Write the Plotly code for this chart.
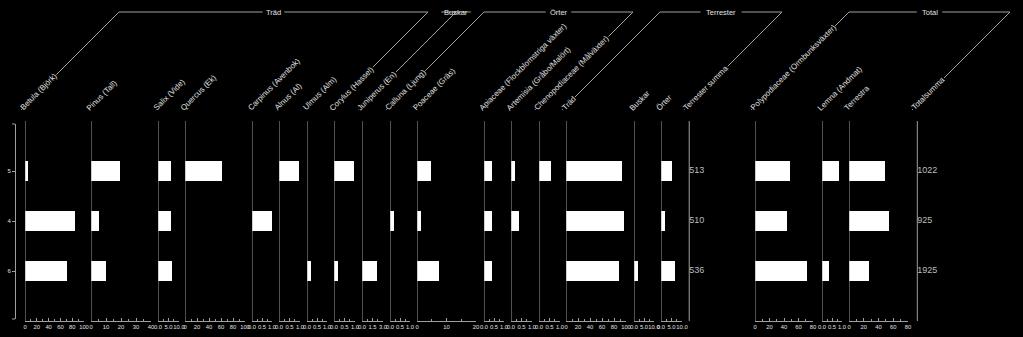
import plotly.graph_objects as go

# ---------------- data ----------------
samples = ["5", "4", "6"]

taxa = [
    "Betula (Björk)", "Pinus (Tall)", "Salix (Vide)", "Quercus (Ek)",
    "Carpinus (Avenbok)", "Alnus (Al)", "Ulmus (Alm)", "Corylus (Hassel)",
    "Juniperus (En)", "Calluna (Ljung)", "Poaceae (Gräs)",
    "Apiaceae (Flockblomstriga växter)", "Artemisia (Gråbo/Malört)",
    "Chenopodiaceae (Målväxter)", "Träd", "Buskar", "Örter",
    "Polypodiaceae (Ormbunksväxter)", "Lemna (Andmat)", "Terrestra",
]

values_sample_5 = [5.5, 19.5, 6.2, 61, 0, 0.97, 0, 0.97, 0, 0, 4.7, 0.38, 0.2, 0.55, 93, 0, 5.2, 48.7, 0.83, 49]
values_sample_4 = [84, 5, 6.3, 0, 0.98, 0, 0, 0, 0, 0.18, 1.3, 0.38, 0.38, 0, 96, 0, 2.1, 44.5, 0, 54.7]
values_sample_6 = [71, 10, 6.5, 0, 0, 0, 0.22, 0.2, 2.1, 0, 7.4, 0.38, 0, 0, 89, 1.8, 6.8, 72.4, 0.33, 27.5]

scale_max = [100, 40, 10, 100, 1, 1, 1, 1, 3, 1, 20, 1, 1, 1, 100, 10, 10, 80, 1, 80]
tick_step = [20, 10, 5, 20, 0.5, 0.5, 0.5, 0.5, 1.5, 0.5, 10, 0.5, 0.5, 0.5, 20, 5, 5, 20, 0.5, 20]
tick_format = ["d", "d", ".1f", "d", ".1f", ".1f", ".1f", ".1f", ".1f", ".1f", "d",
               ".1f", ".1f", ".1f", "d", ".1f", ".1f", "d", ".1f", "d"]

terrester_summa = [513, 510, 536]
totalsumma = [1022, 925, 1925]

group_names = ["Träd", "Buskar", "Örter", "Terrester", "Total"]
group_first = ["Betula (Björk)", "Juniperus (En)", "Calluna (Ljung)", "Träd",
               "Polypodiaceae (Ormbunksväxter)"]
group_last = ["Corylus (Hassel)", "Juniperus (En)", "Chenopodiaceae (Målväxter)",
              "Terrester summa", "Totalsumma"]

# ---------------- layout (pixels) ----------------
W, H = 1023, 337
columns = taxa[:17] + ["Terrester summa"] + taxa[17:] + ["Totalsumma"]
col_left = [25, 91, 158, 185, 252, 279, 307, 334, 362, 390, 417, 484, 511, 539,
            566, 634, 661, 688, 755, 822, 849, 916]
col_right = [84, 151, 179, 245, 272, 300, 327, 355, 383, 410, 476, 504, 532, 560,
             626, 654, 682, 720, 813, 842, 908, 950]
PLOT_TOP, PLOT_BOTTOM = 121, 321
HEADER_Y = 12
LABEL_Y = 110

AX = "#a0a0a0"
TX = "#e0e0e0"
FONT = "Liberation Sans, Arial, sans-serif"


def px(x):
    return x / W


def py(y):
    return 1 - y / H


values_by_sample = [values_sample_5, values_sample_4, values_sample_6]

fig = go.Figure()
layout = {}
shapes = []
annotations = []

# helper trace so the left category axis has its categories
fig.add_trace(go.Scatter(x=[0, 0, 0], y=samples, xaxis="x", yaxis="y", mode="markers",
                         marker=dict(opacity=0), hoverinfo="skip", showlegend=False))

for ci, name in enumerate(columns):
    k = ci + 1
    xid = "x" if k == 1 else f"x{k}"
    xkey = "xaxis" if k == 1 else f"xaxis{k}"
    L, R = col_left[ci], col_right[ci]
    dom = [px(L), px(R)]
    if name in ("Terrester summa", "Totalsumma"):
        sums = terrester_summa if name == "Terrester summa" else totalsumma
        fig.add_trace(go.Scatter(
            x=[0] * len(samples), y=samples, xaxis=xid, yaxis="y2", mode="text",
            text=[str(s) for s in sums], textposition="middle right",
            textfont=dict(size=9, color="#bdbdbd", family=FONT),
            hoverinfo="skip", showlegend=False))
        layout[xkey] = dict(domain=dom, anchor="y2", range=[-0.04, 1], visible=False,
                            automargin=False)
    else:
        t = taxa.index(name)
        vals = [v[t] for v in values_by_sample]
        fig.add_trace(go.Bar(
            x=vals, y=samples, xaxis=xid, yaxis="y2", orientation="h", width=0.4,
            marker=dict(color="white", line=dict(width=0)), showlegend=False,
            hovertemplate=name + ": %{x}<extra></extra>"))
        common = dict(domain=dom, anchor="y2", range=[0, scale_max[t]],
                      tick0=0, dtick=tick_step[t], showgrid=False, zeroline=False,
                      showline=True, linecolor=AX, linewidth=1, tickcolor=AX,
                      tickangle=0, automargin=False)
        layout[xkey] = dict(
            **common, ticks="inside", ticklen=3, tickformat=tick_format[t],
            tickfont=dict(size=5.8, color=TX, family=FONT),
            minor=dict(dtick=tick_step[t] / 2, tick0=0, ticks="inside", ticklen=2,
                       tickcolor=AX))
        tkey = f"xaxis{k + 40}"
        layout[tkey] = dict(
            **common, overlaying=xid, side="top", ticks="outside", ticklen=3,
            showticklabels=False,
            minor=dict(dtick=tick_step[t] / 2, tick0=0, ticks="outside", ticklen=2,
                       tickcolor=AX))
    # panel vertical line
    shapes.append(dict(type="line", xref=xid, yref="y2 domain", x0=0, x1=0, y0=0, y1=1,
                       line=dict(color=AX, width=1)))
    # rotated column label (centerline starts at (L-4, LABEL_Y))
    h = 10
    off = h * 0.7071 / 2
    annotations.append(dict(
        text=name, textangle=-45, showarrow=False, xref="paper", yref="paper",
        x=px(L - 4 - off), y=py(LABEL_Y + off), xanchor="left", yanchor="bottom",
        font=dict(size=7.9, color=TX, family=FONT), bgcolor="black", borderpad=0))

# group headers
for g, gname in enumerate(group_names):
    L1 = col_left[columns.index(group_first[g])]
    L2 = col_left[columns.index(group_last[g])]
    cl = L1 - 4 + (LABEL_Y - HEADER_Y)
    cr = L2 - 4 + (LABEL_Y - HEADER_Y)
    center = (cl + cr) / 2
    tw = len(gname) * 3.9
    for (xa, ya, xb, yb) in [
        (L1 - 4, LABEL_Y, cl, HEADER_Y),
        (L2 - 4, LABEL_Y, cr, HEADER_Y),
        (cl, HEADER_Y, center - tw / 2 - 3, HEADER_Y),
        (center + tw / 2 + 3, HEADER_Y, cr, HEADER_Y),
    ]:
        shapes.append(dict(type="line", xref="paper", yref="paper",
                           x0=px(xa), y0=py(ya), x1=px(xb), y1=py(yb),
                           line=dict(color=AX, width=1)))
    annotations.append(dict(
        text=gname, showarrow=False, xref="paper", yref="paper",
        x=px(center), y=py(HEADER_Y), xanchor="center", yanchor="middle",
        font=dict(size=7.5, color=TX, family=FONT)))

# left axis end ticks
for yv in (0, 1):
    shapes.append(dict(type="line", xref="paper", yref="y domain", x0=px(12), x1=px(15),
                       y0=yv, y1=yv, line=dict(color=AX, width=1)))

layout["yaxis"] = dict(
    domain=[py(319), py(124)], anchor="free", position=px(15), type="category",
    categoryorder="array", categoryarray=samples, range=[2.96, -0.94],
    showline=True, linecolor=AX, linewidth=1, ticks="outside", ticklen=3, tickcolor=AX,
    tickfont=dict(size=6, color=TX, family=FONT), showgrid=False, zeroline=False,
    automargin=False)
layout["yaxis2"] = dict(
    domain=[py(PLOT_BOTTOM), py(PLOT_TOP)], anchor="free", position=0, type="category",
    categoryorder="array", categoryarray=samples, range=[3, -1], visible=False,
    automargin=False)

fig.update_layout(
    width=W, height=H,
    margin=dict(l=0, r=0, t=0, b=0, pad=0, autoexpand=False),
    paper_bgcolor="black", plot_bgcolor="black", showlegend=False,
    shapes=shapes, annotations=annotations, bargap=0,
    font=dict(family=FONT, color=TX), **layout)

fig.write_html("out.html", config={"responsive": False})
